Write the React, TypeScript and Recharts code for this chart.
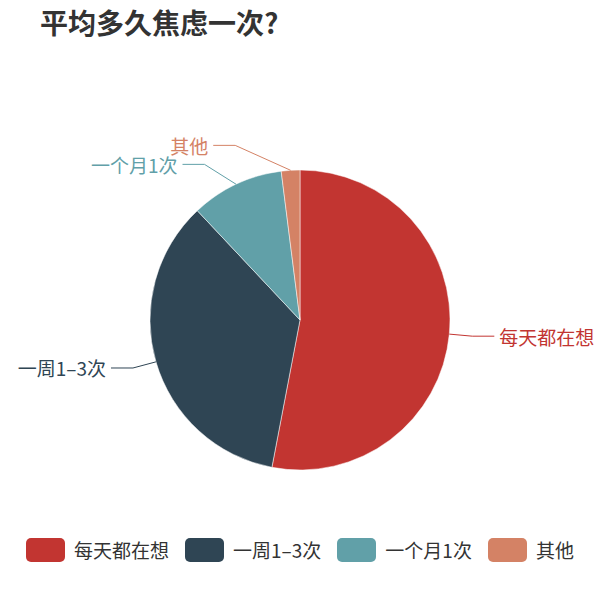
import { Cell, Legend, Pie, PieChart } from 'recharts'

const categories = ['每天都在想', '一周1–3次', '一个月1次', '其他']
const shares = [53, 35, 10, 2]
const colors = ['#c23531', '#2f4554', '#61a0a8', '#d48265']
const title = '平均多久焦虑一次?'

const FONT = '"Noto Sans CJK SC", "Noto Sans", sans-serif'
const RAD = Math.PI / 180
const CX = 300
const CY = 320
const R = 150

const data = categories.map((name, i) => ({ name, value: shares[i] }))

// label rows: start from the slice mid angle, then push apart rows that collide
const labelRows = (() => {
  const total = shares.reduce((a, b) => a + b, 0)
  let acc = 0
  const rows = shares.map((v, i) => {
    const mid = 90 - ((acc + v / 2) / total) * 360
    acc += v
    const side = Math.cos(mid * RAD) >= 0 ? 1 : -1
    return { i, side, y: CY - (R + 22) * Math.sin(mid * RAD) }
  })
  const gap = 19
  ;[1, -1].forEach((side) => {
    const list = rows.filter((r) => r.side === side).sort((a, b) => b.y - a.y)
    for (let k = 1; k < list.length; k++) {
      if (list[k].y > list[k - 1].y - gap) list[k].y = list[k - 1].y - gap
    }
  })
  return rows.map((r) => r.y)
})()

const renderLabel = (props: any) => {
  const { cx, cy, midAngle, outerRadius, index } = props
  const cos = Math.cos(-midAngle * RAD)
  const sin = Math.sin(-midAngle * RAD)
  const dir = cos >= 0 ? 1 : -1
  const sx = cx + outerRadius * cos
  const sy = cy + outerRadius * sin
  const ly = labelRows[index]
  const dy = ly - cy
  const ringR = outerRadius + 45
  const ex = cx + dir * Math.sqrt(Math.max(ringR * ringR - dy * dy, 0))
  const mx = ex - dir * 22
  const color = colors[index]
  return (
    <g>
      <path
        d={`M${sx},${sy}L${mx},${ly}L${ex},${ly}`}
        stroke={color}
        strokeWidth={1}
        fill="none"
      />
      <text
        x={ex + dir * 5}
        y={ly}
        textAnchor={dir > 0 ? 'start' : 'end'}
        dominantBaseline="central"
        fill={color}
        fontSize={19}
        fontFamily={FONT}
      >
        {categories[index]}
      </text>
    </g>
  )
}

const renderLegend = () => (
  <div
    style={{
      display: 'flex',
      justifyContent: 'center',
      alignItems: 'center',
      fontFamily: FONT,
      fontSize: 19,
      color: '#333'
    }}
  >
    {categories.map((name, i) => (
      <div
        key={name}
        style={{
          display: 'flex',
          alignItems: 'center',
          marginRight: i < categories.length - 1 ? 16 : 0
        }}
      >
        <span
          style={{
            display: 'inline-block',
            width: 39,
            height: 24,
            borderRadius: 5,
            background: colors[i],
            marginRight: 9
          }}
        />
        <span>{name}</span>
      </div>
    ))}
  </div>
)

export default function App() {
  return (
    <div
      style={{
        position: 'absolute',
        left: 0,
        top: 0,
        width: 600,
        height: 590,
        background: '#fff'
      }}
    >
      <div
        style={{
          position: 'absolute',
          left: 40,
          top: 4,
          fontFamily: FONT,
          fontWeight: 'bold',
          fontSize: 28,
          color: '#333',
          lineHeight: '36px'
        }}
      >
        {title}
      </div>
      <PieChart
        width={600}
        height={590}
        margin={{ top: 0, right: 0, bottom: 0, left: 0 }}
      >
        <Pie
          data={data}
          dataKey="value"
          nameKey="name"
          cx={CX}
          cy={CY}
          outerRadius={R}
          startAngle={90}
          endAngle={-270}
          stroke="#fff"
          strokeWidth={0.5}
          label={renderLabel}
          labelLine={false}
          isAnimationActive={false}
        >
          {data.map((d, i) => (
            <Cell key={d.name} fill={colors[i]} />
          ))}
        </Pie>
        <Legend
          content={renderLegend}
          wrapperStyle={{ left: 0, top: 536, width: 600 }}
        />
      </PieChart>
    </div>
  )
}
